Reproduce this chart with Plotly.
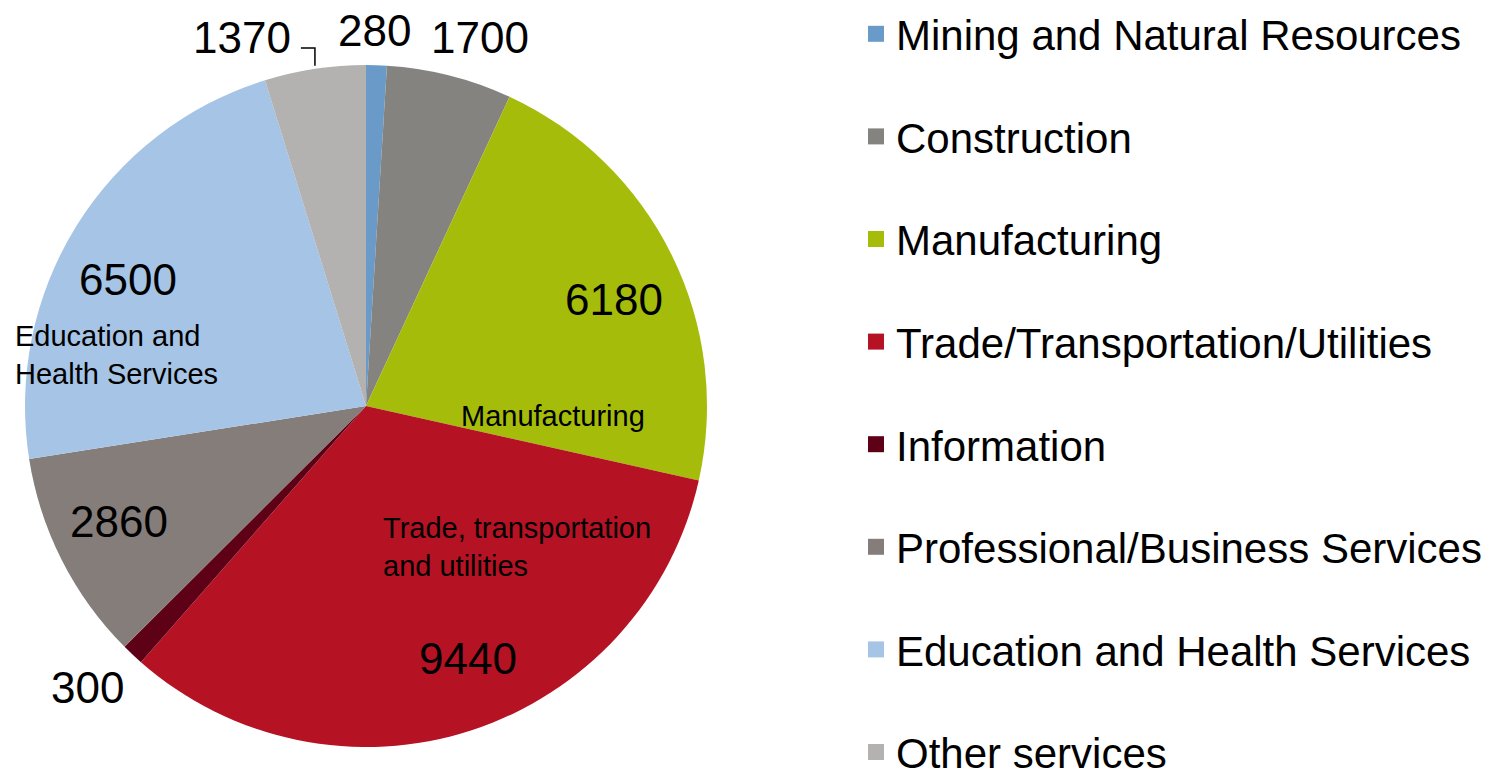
import math
import plotly.graph_objects as go

# ---- data ----
categories = ["Mining and Natural Resources", "Construction", "Manufacturing",
              "Trade/Transportation/Utilities", "Information",
              "Professional/Business Services", "Education and Health Services",
              "Other services"]
values = [280, 1700, 6180, 9440, 300, 2860, 6500, 1370]
colors = ["#6a9bc8", "#858380", "#a5bd0a", "#b51224", "#5e0016",
          "#857d7a", "#a6c4e5", "#b3b2b1"]

# ---- layout styling (pixel geometry of the pie) ----
W, H = 1510, 775
CX, CY, R = 366, 406, 341
# label placement: (radial factor, angle offset in degrees)
label_style = [(1.10, -0.5), (1.13, 3.0), (0.79, 3.0), (0.80, -4.0),
               (1.16, 1.5), (0.80, 2.0), (0.79, -4.0), (1.14, -10.0)]

def px2paper(x, y):
    return x / W, 1 - y / H

fig = go.Figure()
fig.add_trace(go.Pie(
    labels=categories, values=values, sort=False, direction="clockwise",
    rotation=0, marker=dict(colors=colors, line=dict(width=0)),
    textinfo="none", showlegend=False, hoverinfo="label+value",
    domain=dict(x=[(CX - R) / W, (CX + R) / W], y=[1 - (CY + R) / H, 1 - (CY - R) / H]),
))

# legend entries via dummy traces
for name, col in zip(categories, colors):
    fig.add_trace(go.Scatter(x=[None], y=[None], mode="markers", name=name,
                             legendgroup=name,
                             marker=dict(symbol="square", size=16, color=col)))

total = sum(values)
cum = 0
annotations = []
mid_angles = []
for v, (rf, off) in zip(values, label_style):
    a0 = cum / total * 360
    cum += v
    a1 = cum / total * 360
    mid = (a0 + a1) / 2
    mid_angles.append(mid)
    ang = math.radians(mid + off)
    x = CX + rf * R * math.sin(ang)
    y = CY - rf * R * math.cos(ang)
    px, py = px2paper(x, y)
    annotations.append(dict(x=px, y=py, xref="paper", yref="paper", text=str(v),
                            showarrow=False, xanchor="center", yanchor="middle",
                            font=dict(size=44, color="#000000")))

# leader line for "Other services" label
ang = math.radians(mid_angles[7])
lx = CX + R * math.sin(ang)
ly = CY - R * math.cos(ang)
p0 = px2paper(lx, ly - 3)
p1 = px2paper(lx, 48)
p2 = px2paper(lx - 14, 48)
fig.add_shape(type="path", xref="paper", yref="paper",
              path=f"M {p0[0]} {p0[1]} L {p1[0]} {p1[1]} L {p2[0]} {p2[1]}",
              line=dict(color="#000000", width=1.5))

# category text boxes
cat_boxes = [("Manufacturing", 553, 416, "center"),
             ("Trade, transportation<br>and utilities", 381, 547, "left"),
             ("Education and<br>Health Services", 13, 355, "left")]
for t, x, y, al in cat_boxes:
    px, py = px2paper(x, y)
    annotations.append(dict(x=px, y=py, xref="paper", yref="paper", text=t,
                            showarrow=False, align=al, yanchor="middle",
                            xanchor="center" if al == "center" else "left",
                            font=dict(size=29, color="#000000")))

fig.update_layout(
    width=W, height=H, margin=dict(l=0, r=0, t=0, b=0),
    paper_bgcolor="white", plot_bgcolor="white",
    font=dict(family="Liberation Sans, Arial, sans-serif", color="#000000"),
    annotations=annotations,
    xaxis=dict(visible=False), yaxis=dict(visible=False),
    legend=dict(x=856 / W, y=1.0 - 2 / H, xanchor="left", yanchor="top",
                font=dict(size=42), tracegroupgap=45, maxheight=1200,
                bgcolor="rgba(0,0,0,0)"),
)

fig.write_html("out.html", config={"displayModeBar": False},
               post_script="document.body.style.margin='0';")
